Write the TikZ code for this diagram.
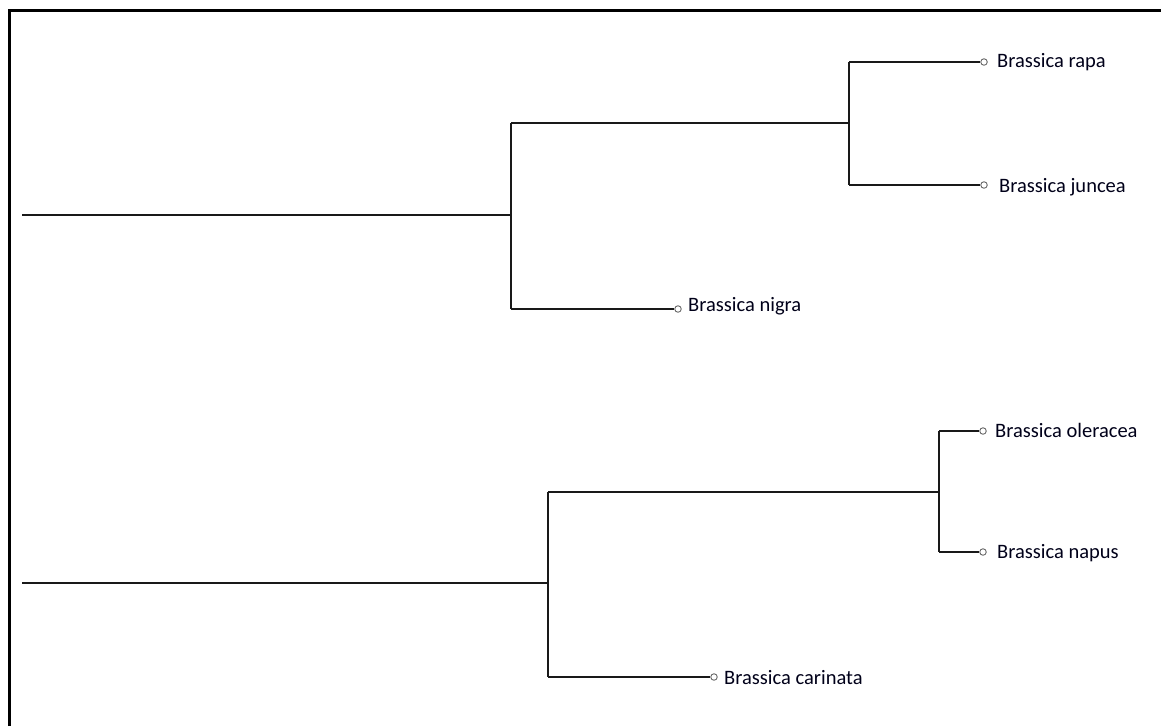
\documentclass[tikz,border=0pt]{standalone}
\usepackage{fontspec}
\setmainfont{Carlito}
\begin{document}
\begin{tikzpicture}[x=1pt,y=-1pt,
  branch/.style={line width=1.4pt,black!90},
  tip/.style={circle,draw=black!60,line width=0.9pt,inner sep=0pt,minimum size=6.5pt,fill=white},
  taxon/.style={anchor=west,font=\fontsize{20.5}{24}\selectfont,inner sep=0pt,text=black!90!blue}]
\useasboundingbox (0,0) rectangle (1161,726);
% frame
\draw[line width=3pt] (9.5,726) -- (9.5,10.5) -- (1161,10.5);

% first clade
\coordinate (r1) at (22,215);
\coordinate (n1) at (511,215);
\coordinate (n2) at (849,123);
\node[tip] (rapa) at (984,62) {};
\node[tip] (juncea) at (984,185) {};
\node[tip] (nigra) at (678,309) {};
\node[taxon] (lrapa) at (997,62) {Brassica rapa};
\node[taxon] (ljuncea) at (999,187) {Brassica juncea};
\node[taxon] (lnigra) at (688,306) {Brassica nigra};
\draw[branch] (r1) -- (n1);
\draw[branch] (n1 |- n2) -- (n1 |- nigra);
\draw[branch] (n1 |- n2) -- (n2);
\draw[branch] (n1 |- nigra) -- (nigra.west);
\draw[branch] (n2 |- rapa) -- (n2 |- juncea);
\draw[branch] (n2 |- rapa) -- (rapa.west);
\draw[branch] (n2 |- juncea) -- (juncea.west);

% second clade
\coordinate (r2) at (22,583);
\coordinate (n3) at (548,583);
\coordinate (n4) at (939,492);
\node[tip] (oleracea) at (983,431) {};
\node[tip] (napus) at (983,552) {};
\node[tip] (carinata) at (714,677) {};
\node[taxon] (loleracea) at (995,430) {Brassica oleracea};
\node[taxon] (lnapus) at (997,553) {Brassica napus};
\node[taxon] (lcarinata) at (724,678) {Brassica carinata};
\draw[branch] (r2) -- (n3);
\draw[branch] (n3 |- n4) -- (n3 |- carinata);
\draw[branch] (n3 |- n4) -- (n4);
\draw[branch] (n3 |- carinata) -- (carinata.west);
\draw[branch] (n4 |- oleracea) -- (n4 |- napus);
\draw[branch] (n4 |- oleracea) -- (oleracea.west);
\draw[branch] (n4 |- napus) -- (napus.west);
\end{tikzpicture}
\end{document}
